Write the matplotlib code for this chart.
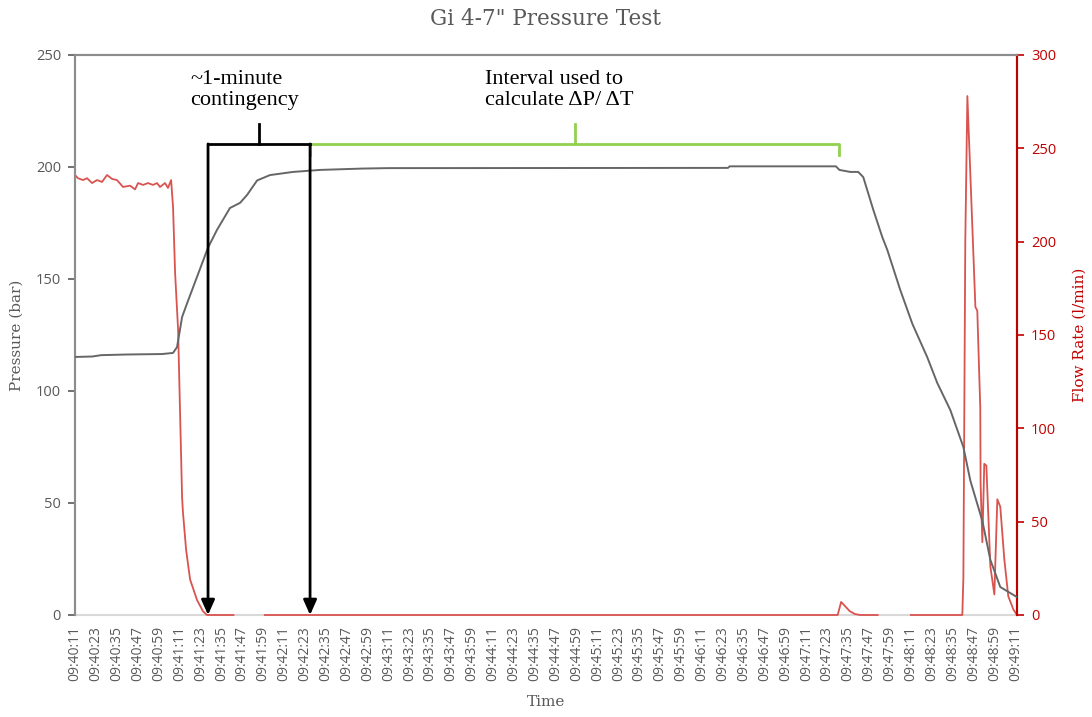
import numpy as np
import matplotlib.pyplot as plt

# seconds after 09:40:11
p_time = [0, 10, 15, 30, 50, 56.3, 58.6, 61.5, 64.3, 70.1, 76.4, 81.6, 89, 94.8, 98.8,
          104.6, 112, 125.2, 140.8, 165, 180, 375, 376, 437, 439, 445.2, 449.8, 452.7,
          458.5, 463.6, 466.5, 474, 480.9, 489.5, 495.2, 502.7, 510.2, 514.2, 521.1,
          525.7, 531.4, 541]
pressure = [115.2, 115.4, 116, 116.3, 116.5, 117, 119.6, 133, 139, 151, 164, 172, 181.7,
            184, 187.5, 194, 196.4, 197.8, 198.7, 199.3, 199.5, 199.6, 200.3, 200.3,
            198.7, 197.8, 197.8, 195.5, 180.8, 168.8, 163, 145, 130, 115, 103.6, 91.5,
            75, 60, 42, 24.6, 12.5, 8]

f_time = [0, 1.7, 4.6, 6.9, 9.8, 12.6, 15.5, 18.4, 21.3, 24.1, 27.6, 31.6, 34.5, 36.2,
          39.1, 41.9, 44.8, 47.1, 48.8, 51.7, 53.4, 55.2, 56.3, 57.5, 59.2, 61.5, 62,
          63.8, 66.1, 70.1, 73.5, 75.8, 91,
          np.nan,
          109, 437, 438, 440, 442, 445, 448, 451, 461,
          np.nan,
          480, 509.6, 510.2, 511.3, 512.5, 517.1, 518.2, 519.9, 520.1, 521.1, 522.2,
          523.4, 525.7, 528.0, 529.7, 531.4, 533.7, 536.0, 538.9, 541]
flow = [235.7, 234, 233, 234, 231.4, 233, 232, 235.7, 233.6, 233, 229.3, 230, 228, 231.4,
        230.4, 231.4, 230.4, 231.4, 229.3, 231.4, 228.8, 233, 218.6, 183, 153, 63, 55,
        35, 19, 8, 2, 0, 0,
        np.nan,
        0, 0, 0, 7, 5, 2, 0.5, 0, 0,
        np.nan,
        0, 0, 20, 200, 278, 165, 163, 111, 70, 39, 81, 80, 26, 11, 62, 58, 30, 10, 3, 0]

tick_labels = [
    "09:40:11", "09:40:23", "09:40:35", "09:40:47", "09:40:59", "09:41:11", "09:41:23",
    "09:41:35", "09:41:47", "09:41:59", "09:42:11", "09:42:23", "09:42:35", "09:42:47",
    "09:42:59", "09:43:11", "09:43:23", "09:43:35", "09:43:47", "09:43:59", "09:44:11",
    "09:44:23", "09:44:35", "09:44:47", "09:44:59", "09:45:11", "09:45:23", "09:45:35",
    "09:45:47", "09:45:59", "09:46:11", "09:46:23", "09:46:35", "09:46:47", "09:46:59",
    "09:47:11", "09:47:23", "09:47:35", "09:47:47", "09:47:59", "09:48:11", "09:48:23",
    "09:48:35", "09:48:47", "09:48:59", "09:49:11"]
tick_step = 12

# annotation positions (s) and pressure levels (bar)
contingency_start, contingency_end = 76.4, 135
interval_end = 438.9
bracket_level, stem_top, end_drop = 210.3, 219.2, 205.4

gray = '#595959'
red = '#c00000'
green = '#92d050'

fig = plt.figure(figsize=(10.92, 7.17), dpi=100)
ax = fig.add_axes([75/1092, 1-615/717, 942/1092, 560/717])
ax2 = ax.twinx()

ax.plot(p_time, pressure, color='#666666', lw=1.4, zorder=3)
ax2.plot(f_time, flow, color='#d9534f', lw=1.3, zorder=3, clip_on=False)

ax.set_xlim(0, 541)
ax.set_ylim(0, 250)
ax2.set_ylim(0, 300)
ax.set_yticks(np.arange(0, 251, 50))
ax2.set_yticks(np.arange(0, 301, 50))
ax.set_xticks(np.arange(len(tick_labels)) * tick_step)
ax.set_xticklabels(tick_labels, rotation=90, family='Open Sans', fontsize=10, color=gray)
ax.tick_params(axis='x', length=0, pad=8)
ax.tick_params(axis='y', colors=gray, length=5, width=1.2, labelsize=10.5, pad=5)
ax2.tick_params(axis='y', colors=red, length=5, width=1.2, labelsize=10.5, pad=5)
for lab in ax.get_yticklabels() + ax2.get_yticklabels():
    lab.set_family('Open Sans')

for a in (ax, ax2):
    a.spines['left'].set_color('#8c8c8c')
    a.spines['top'].set_color('#8c8c8c')
    a.spines['bottom'].set_color('#d9d9d9')
    a.spines['right'].set_color(red)
    for s in a.spines.values():
        s.set_linewidth(1.5)
ax.spines['bottom'].set_visible(False)
ax2.spines['bottom'].set_zorder(1)
ax.patch.set_visible(False)
ax.set_zorder(ax2.get_zorder() + 1)

ax.set_xlabel('Time', family='DejaVu Serif', fontsize=11, color=gray, labelpad=10)
ax.set_ylabel('Pressure (bar)', family='DejaVu Serif', fontsize=11, color=gray, labelpad=9)
ax2.set_ylabel('Flow Rate (l/min)', family='DejaVu Serif', fontsize=11, color=red, labelpad=12)
fig.text(0.5, 0.974, 'Gi 4-7" Pressure Test', ha='center', va='center',
         family='DejaVu Serif', fontsize=15.5, color=gray)

# black bracket with arrows
ax.plot([contingency_start, contingency_end], [bracket_level, bracket_level],
        color='black', lw=2, clip_on=False, zorder=5)
mid = (contingency_start + contingency_end) / 2
ax.plot([mid, mid], [bracket_level, stem_top], color='black', lw=2, zorder=5)
for xs in (contingency_start, contingency_end):
    ax.annotate('', xy=(xs, 0), xytext=(xs, bracket_level),
                arrowprops=dict(arrowstyle='-|>,head_length=0.9,head_width=0.4',
                                color='black', lw=2, shrinkA=0, shrinkB=0), zorder=5)

# green bracket
ax.plot([contingency_end, contingency_end, interval_end, interval_end],
        [end_drop, bracket_level, bracket_level, end_drop], color=green, lw=2, zorder=4)
gmid = (contingency_end + interval_end) / 2
ax.plot([gmid, gmid], [bracket_level, stem_top], color=green, lw=2, zorder=4)

ax.text(66, 234.4, '~1-minute\ncontingency', family='Liberation Serif', fontsize=16,
        ha='left', va='center', linespacing=1.15)
ax.text(235.5, 234.4, 'Interval used to\ncalculate \u0394P/ \u0394T', family='Liberation Serif',
        fontsize=16, ha='left', va='center', linespacing=1.15)

fig.savefig('out.png', dpi=100)
